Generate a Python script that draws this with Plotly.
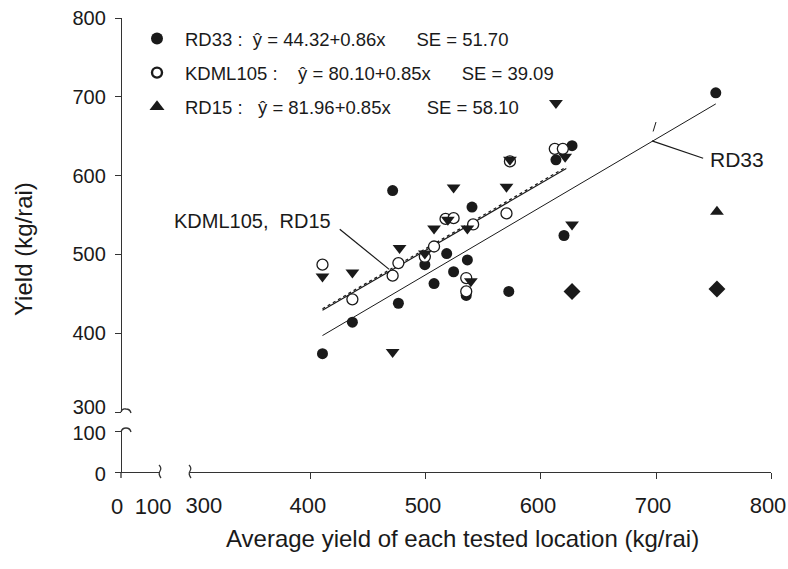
import plotly.graph_objects as go

W, H = 788, 569
FONT = "Liberation Sans, Arial, sans-serif"
INK = "#1a1a1a"

# ---------------- data ----------------
rd33_x = [410, 436, 471, 476, 499, 507, 518, 524, 535, 536, 540, 572, 613, 620, 627, 752]
rd33_y = [374, 414, 581, 438, 487, 463, 501, 478, 448, 493, 560, 453, 620, 524, 638, 705]

kdml_x = [410, 436, 471, 476, 499, 507, 517, 524, 535, 535, 541, 570, 573, 612, 619]
kdml_y = [487, 443, 473, 489, 497, 510, 545, 546, 470, 453, 538, 552, 618, 634, 634]

rd15_x = [410, 436, 471, 477, 499, 507, 519, 524, 536, 539, 570, 573, 613, 621, 627]
rd15_y = [472, 477, 376, 508, 501, 533, 544, 585, 533, 466, 586, 620, 692, 624, 538]

up_x = [753]
up_y = [554]
diamond_x = [627, 753]
diamond_y = [453, 456]

# regression line end points
rd33_line_x = [410, 752]
rd33_line_y = [397, 691]
kdml_line_x = [410, 622]
kdml_line_y = [429, 609]
rd15_line_x = [410, 622]
rd15_line_y = [431, 611]

NB = "\u00a0"
legend_names = [
    "RD33 :" + NB * 2 + "ŷ = 44.32+0.86x" + NB * 6 + "SE = 51.70",
    "KDML105 :" + NB * 4 + "ŷ = 80.10+0.85x" + NB * 6 + "SE = 39.09",
    "RD15 :" + NB * 3 + "ŷ = 81.96+0.85x" + NB * 7 + "SE = 58.10",
]

x_main_ticks = [400, 500, 600, 700, 800]
y_main_ticks = [300, 400, 500, 600, 700, 800]
y_main_text = ["", "400", "500", "600", "700", "800"]

# label annotations (data coords)
rd33_label = dict(text="RD33", x=745, y=621)
rd33_leader = dict(x0=696.5, y0=644, x1=741, y1=622)
rd33_mark = dict(x0=697.5, y0=656, x1=700, y1=668)
kd_label = dict(text="KDML105,  RD15", x=419, y=542)
kd_leader = dict(x0=425, y0=532, x1=468, y1=481)


def fx(p):
    return p / W


def fy(p):
    return 1 - p / H


fig = go.Figure()

# regression lines
fig.add_trace(go.Scatter(x=rd33_line_x, y=rd33_line_y, mode="lines",
                         line=dict(color=INK, width=1), showlegend=False, hoverinfo="skip"))
fig.add_trace(go.Scatter(x=kdml_line_x, y=kdml_line_y, mode="lines",
                         line=dict(color=INK, width=1.2), showlegend=False, hoverinfo="skip"))
fig.add_trace(go.Scatter(x=rd15_line_x, y=rd15_line_y, mode="lines",
                         line=dict(color=INK, width=1.3, dash="dot"), showlegend=False, hoverinfo="skip"))

# points
fig.add_trace(go.Scatter(x=rd33_x, y=rd33_y, mode="markers", showlegend=False,
                         marker=dict(symbol="circle", size=11, color=INK), cliponaxis=False))
fig.add_trace(go.Scatter(x=kdml_x, y=kdml_y, mode="markers", showlegend=False,
                         marker=dict(symbol="circle", size=11, color="white",
                                     line=dict(color=INK, width=1.3)), cliponaxis=False))
fig.add_trace(go.Scatter(x=rd15_x, y=rd15_y, mode="markers", showlegend=False,
                         marker=dict(symbol="triangle-down", size=12, color=INK), cliponaxis=False))
fig.add_trace(go.Scatter(x=up_x, y=up_y, mode="markers", showlegend=False,
                         marker=dict(symbol="triangle-up", size=12, color=INK), cliponaxis=False))
fig.add_trace(go.Scatter(x=diamond_x, y=diamond_y, mode="markers", showlegend=False,
                         marker=dict(symbol="diamond", size=13, color=INK), cliponaxis=False))

# legend entries
fig.add_trace(go.Scatter(x=[None], y=[None], mode="markers", name=legend_names[0], legendgroup="a",
                         marker=dict(symbol="circle", size=12, color=INK)))
fig.add_trace(go.Scatter(x=[None], y=[None], mode="markers", name=legend_names[1], legendgroup="b",
                         marker=dict(symbol="circle", size=10, color="white", line=dict(color=INK, width=2.4))))
fig.add_trace(go.Scatter(x=[None], y=[None], mode="markers", name=legend_names[2], legendgroup="c",
                         marker=dict(symbol="triangle-up", size=13, color=INK)))

# dummy traces so the broken-axis segments and label-only overlay axes are kept alive
for xa, ya in (("x2", "y2"), ("x3", "y"), ("x4", "y"), ("x", "y3")):
    fig.add_trace(go.Scatter(x=[None], y=[None], xaxis=xa, yaxis=ya, showlegend=False))

XFONT = dict(family=FONT, size=22, color=INK)
YFONT = dict(family=FONT, size=20, color=INK)
line_common = dict(showgrid=False, zeroline=False, linecolor="#333", linewidth=1.3,
                   automargin=False, ticklabeloverflow="allow")
tick_common = dict(ticks="outside", tickwidth=1.3, ticklen=6)
HIDDEN_TICK = "rgba(0,0,0,0)"
XSTAND = 8

fig.update_layout(
    width=W, height=H,
    margin=dict(l=0, r=0, t=0, b=0, pad=0, autoexpand=False),
    paper_bgcolor="white", plot_bgcolor="white",
    font=dict(family=FONT, color=INK, size=18),
    # main x segment: line + ticks only
    xaxis=dict(domain=[fx(190), fx(771)], range=[294.8, 800], tickvals=x_main_ticks,
               anchor="y2", showticklabels=False, showline=True,
               tickcolor="#333", **line_common, **tick_common),
    # short x segment 0-100
    xaxis2=dict(domain=[fx(121), fx(160)], range=[0, 108], tickvals=[0, 100], ticktext=["0", "100"],
                anchor="y2", tickfont=XFONT, ticklabelstandoff=XSTAND, ticklabelshift=-4, showline=True,
                tickcolor=HIDDEN_TICK, **line_common, **tick_common),
    # label-only overlays for the main x segment
    xaxis3=dict(overlaying="x", range=[294.8, 800], tickvals=[300], anchor="y2",
                tickfont=XFONT, ticklabelstandoff=XSTAND, ticklabelshift=8, showline=False,
                tickcolor=HIDDEN_TICK, **line_common, **tick_common),
    xaxis4=dict(overlaying="x", range=[294.8, 800], tickvals=x_main_ticks, anchor="y2",
                tickfont=XFONT, ticklabelstandoff=XSTAND, ticklabelshift=-3, showline=False,
                tickcolor=HIDDEN_TICK, **line_common, **tick_common),
    yaxis=dict(domain=[fy(412), fy(18)], range=[300, 800], tickvals=y_main_ticks, ticktext=y_main_text,
               anchor="free", position=fx(121), ticklabelstandoff=5,
               tickfont=YFONT, showline=True, tickcolor="#333", **line_common, **tick_common),
    yaxis3=dict(overlaying="y", range=[300, 800], tickvals=[300], ticktext=["300"],
                anchor="free", position=fx(121), ticklabelshift=-5, ticklabelstandoff=5,
                tickfont=YFONT, showline=False, tickcolor=HIDDEN_TICK, **line_common, **tick_common),
    yaxis2=dict(domain=[fy(472), fy(431)], range=[0, 100], tickvals=[0, 100],
                anchor="free", position=fx(121), ticklabelshift=2, ticklabelstandoff=5,
                tickfont=YFONT, showline=True, tickcolor="#333", **line_common, **tick_common),
    legend=dict(x=fx(129), y=fy(20), xanchor="left", yanchor="top", bgcolor="rgba(0,0,0,0)",
                font=dict(family=FONT, size=18.5, color=INK), tracegroupgap=7, itemwidth=46,
                itemclick=False, itemdoubleclick=False),
    showlegend=True,
)

annotations = [
    dict(text=rd33_label["text"], x=rd33_label["x"], y=rd33_label["y"], xref="x", yref="y",
         xanchor="left", yanchor="middle", showarrow=False, font=dict(size=21)),
    dict(text=kd_label["text"], x=kd_label["x"], y=kd_label["y"], xref="x", yref="y",
         xanchor="right", yanchor="middle", showarrow=False, font=dict(size=20)),
    dict(text="Yield (kg/rai)", x=fx(23), y=fy(249), xref="paper", yref="paper",
         xanchor="center", yanchor="middle",
         textangle=-90, showarrow=False, font=dict(size=24)),
    dict(text="Average yield of each tested location (kg/rai)", x=fx(463), y=fy(538),
         xref="paper", yref="paper", xanchor="center", yanchor="middle",
         showarrow=False, font=dict(size=24)),
]
fig.update_layout(annotations=annotations)

# leader lines for labels
shapes = []
for seg, w in ((rd33_leader, 1.2), (kd_leader, 1.2), (rd33_mark, 1)):
    shapes.append(dict(type="line", xref="x", yref="y", x0=seg["x0"], y0=seg["y0"],
                       x1=seg["x1"], y1=seg["y1"], line=dict(color=INK, width=w)))


def path(points):
    s = "M %.5f,%.5f" % (fx(points[0][0]), fy(points[0][1]))
    for i in range(1, len(points), 2):
        (cx, cy), (ex, ey) = points[i], points[i + 1]
        s += " Q %.5f,%.5f %.5f,%.5f" % (fx(cx), fy(cy), fx(ex), fy(ey))
    return s


# axis break symbols and origin tick
breaks = [
    [(121, 412), (122, 408), (126, 409), (130, 409), (131, 413)],   # y, top segment bottom (300)
    [(121, 432), (122, 428), (126, 428), (130, 428), (131, 432)],   # y, lower segment top (100)
    [(159, 465), (162, 468), (160, 471), (158, 474), (161, 478)],   # x, left segment end
    [(189, 465), (192, 468), (190, 471), (188, 474), (191, 478)],   # x, right segment start
    [(121, 472), (121, 475), (121, 478)],                           # origin tick below x-axis
]
for b in breaks:
    shapes.append(dict(type="path", xref="paper", yref="paper", path=path(b),
                       line=dict(color="#333", width=1.3)))
fig.update_layout(shapes=shapes)

fig.write_html("out.html", config={"displayModeBar": False},
               post_script="document.body.style.margin='0px';")
